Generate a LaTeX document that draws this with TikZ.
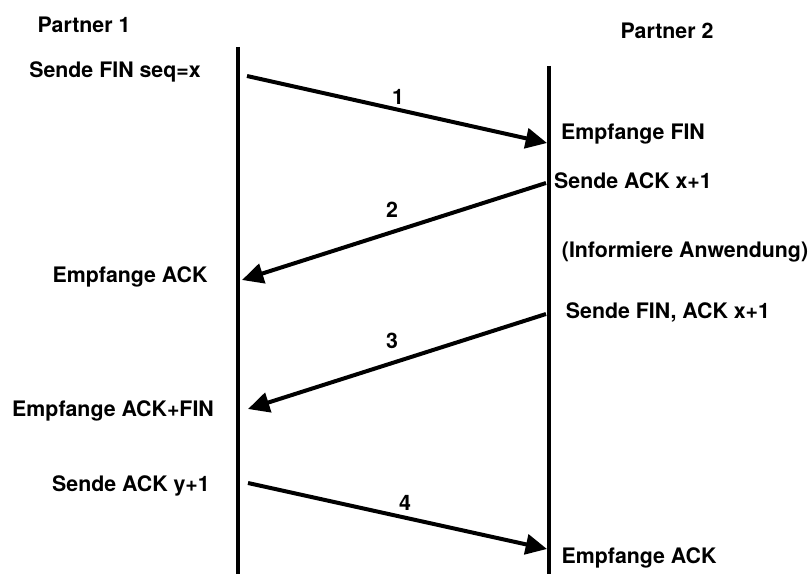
\documentclass[tikz,border=0pt]{standalone}
\usepackage{fontspec}
\setmainfont{TeX Gyre Heros}
\usetikzlibrary{arrows.meta}

\begin{document}
\begin{tikzpicture}
      [ x=0.75pt, y=-0.75pt
        , every node/.style={font=\fontsize{16}{19}\selectfont\bfseries,
            inner sep=0pt, text height=11.5pt, text depth=0pt}
        , lifeline/.style={line width=3pt}
        , msg/.style={line width=3pt, -{Triangle[length=16pt,width=15pt]}}
      ]
      \useasboundingbox (0,0) rectangle (811,574);

      % the two partners
      \node (p1) at (84,25) {Partner 1};
      \node (p2) at (667,31) {Partner 2};
      \coordinate (p1top) at (238,47);
      \coordinate (p1bot) at (238,574);
      \coordinate (p2top) at (548.5,66);
      \coordinate (p2bot) at (548.5,574);
      \draw[lifeline] (p1top) -- (p1bot);
      \draw[lifeline] (p2top) -- (p2bot);

      % texts at the lifelines
      \node (s1) at (115,70) {Sende FIN seq=x};
      \node (r1) at (633,132) {Empfange FIN};
      \node (s2) at (633,181) {Sende ACK x+1};
      \node (inf) at (685,250) {(Informiere Anwendung)};
      \node (r2) at (130,275) {Empfange ACK};
      \node (s3) at (668,311) {Sende FIN, ACK x+1};
      \node (r3) at (113,409) {Empfange ACK+FIN};
      \node (s4) at (131,484) {Sende ACK y+1};
      \node (r4) at (639,556) {Empfange ACK};

      % messages
      \coordinate (m1s) at (247,76);
      \coordinate (m1e) at (547,143);
      \coordinate (m2s) at (546,183);
      \coordinate (m2e) at (242,280);
      \coordinate (m3s) at (546,314);
      \coordinate (m3e) at (248,409);
      \coordinate (m4s) at (248,483);
      \coordinate (m4e) at (547,549);
      \draw[msg] (m1s) -- (m1e);
      \draw[msg] (m2s) -- (m2e);
      \draw[msg] (m3s) -- (m3e);
      \draw[msg] (m4s) -- (m4e);

      \node (n1) at (398,97) {1};
      \node (n2) at (392,210) {2};
      \node (n3) at (392,341) {3};
      \node (n4) at (405,503) {4};

    \end{tikzpicture}
\end{document}
